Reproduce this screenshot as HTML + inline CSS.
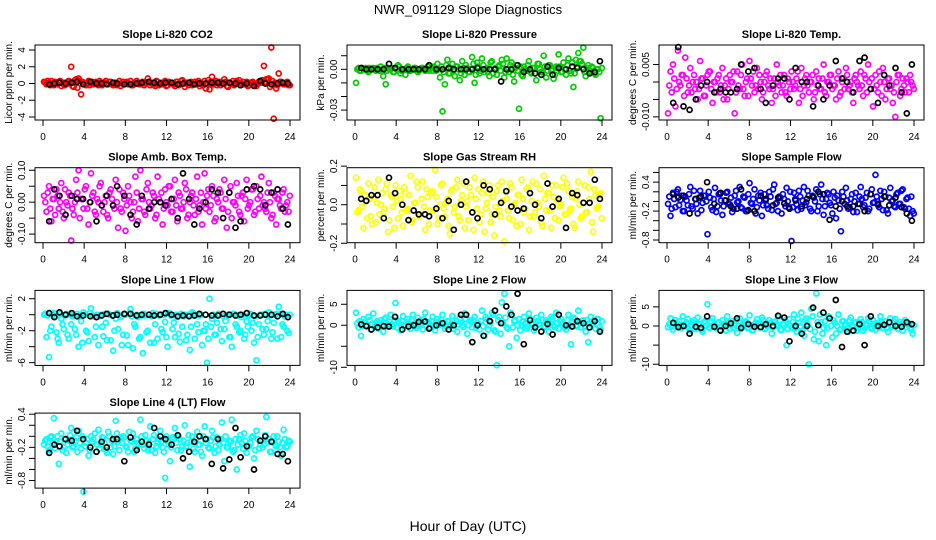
<!DOCTYPE html>
<html><head><meta charset="utf-8"><style>
html,body{margin:0;padding:0;background:#fff}
svg{display:block}
text{font-family:"Liberation Sans",sans-serif;fill:#000}
</style></head><body>
<svg id="chart" width="936" height="540" viewBox="0 0 936 540" xmlns="http://www.w3.org/2000/svg">
<text x="468" y="14" font-size="13" text-anchor="middle">NWR_091129  Slope Diagnostics</text>
<text x="468" y="531" font-size="14" text-anchor="middle">Hour of Day (UTC)</text>
<g id="panels"></g>
</svg>
<script>
const sampleHours=[0.1,0.34,0.58,0.82,1.06,1.3,1.54,1.78,2.02,2.26,2.5,2.74,2.98,3.22,3.46,3.7,3.94,4.18,4.42,4.66,4.9,5.14,5.38,5.62,5.86,6.1,6.34,6.58,6.82,7.06,7.3,7.54,7.78,8.02,8.26,8.5,8.74,8.98,9.22,9.46,9.7,9.94,10.18,10.42,10.66,10.9,11.14,11.38,11.62,11.86,12.1,12.34,12.58,12.82,13.06,13.3,13.54,13.78,14.02,14.26,14.5,14.74,14.98,15.22,15.46,15.7,15.94,16.18,16.42,16.66,16.9,17.14,17.38,17.62,17.86,18.1,18.34,18.58,18.82,19.06,19.3,19.54,19.78,20.02,20.26,20.5,20.74,20.98,21.22,21.46,21.7,21.94,22.18,22.42,22.66,22.9,23.14,23.38,23.62,23.86];
const sampleHours2=[0.22,0.46,0.7,0.94,1.18,1.42,1.66,1.9,2.14,2.38,2.62,2.86,3.1,3.34,3.58,3.82,4.06,4.3,4.54,4.78,5.02,5.26,5.5,5.74,5.98,6.22,6.46,6.7,6.94,7.18,7.42,7.66,7.9,8.14,8.38,8.62,8.86,9.1,9.34,9.58,9.82,10.06,10.3,10.54,10.78,11.02,11.26,11.5,11.74,11.98,12.22,12.46,12.7,12.94,13.18,13.42,13.66,13.9,14.14,14.38,14.62,14.86,15.1,15.34,15.58,15.82,16.06,16.3,16.54,16.78,17.02,17.26,17.5,17.74,17.98,18.22,18.46,18.7,18.94,19.18,19.42,19.66,19.9,20.14,20.38,20.62,20.86,21.1,21.34,21.58,21.82,22.06,22.3,22.54,22.78,23.02,23.26,23.5,23.74,23.98];
const blackHours=[0.6,1.1,1.6,2.2,2.8,3.3,3.9,4.6,5.2,5.7,6.2,6.8,7.2,7.9,8.5,9.1,9.6,10.3,10.8,11.4,11.9,12.5,13.1,13.6,14.2,14.7,15.2,15.8,16.4,17.0,17.5,18.1,18.7,19.2,19.8,20.5,21.1,21.6,22.2,22.8,23.3,23.8];
const xTicks=[0,4,8,12,16,20,24];
const panelTitles=["Slope Li-820 CO2","Slope Li-820 Pressure","Slope Li-820 Temp.","Slope Amb. Box Temp.","Slope Gas Stream RH","Slope Sample Flow","Slope Line 1 Flow","Slope Line 2 Flow","Slope Line 3 Flow","Slope Line 4 (LT) Flow"];
const yTitles=["Licor ppm per min.","kPa per min.","degrees C per min.","degrees C per min.","percent per min.","ml/min per min.","ml/min per min.","ml/min per min.","ml/min per min.","ml/min per min."];
const colors=["#ff0000","#00cc00","#ff00ff","#ff00ff","#ffff00","#0000ff","#00ffff","#00ffff","#00ffff","#00ffff"];
const valueScale=[1,0.001,0.001,0.01,0.01,0.01,0.1,0.1,0.1,0.01];
const yMax=[4.6,0.0179,0.0106,0.108,0.192,0.70,3.04,8.3,9.3,0.42];
const yMin=[-4.36,-0.0373,-0.0109,-0.127,-0.197,-0.856,-6.34,-9.55,-10.3,-0.937];
const yTickVals=[[-4,-2,0,2,4],[0.01,0,-0.01,-0.02,-0.03],[0.005,0,-0.005,-0.01],[0.1,0.05,0,-0.05,-0.1],[0.2,0.1,0,-0.1,-0.2],[0.6,0.4,0.2,0,-0.2,-0.4,-0.6,-0.8],[2,0,-2,-4,-6],[5,0,-5,-10],[5,0,-5,-10],[0.4,0.2,0,-0.2,-0.4,-0.6,-0.8]];
const yTickLabels=[["-4","-2","0","2","4"],["","0.00","","","-0.03"],["0.005","","","-0.010"],["0.10","","0.00","","-0.10"],["0.2","","0.0","","-0.2"],["","0.4","","","-0.2","","","-0.8"],["2","","-2","","-6"],["5","0","","-10"],["5","0","","-10"],["0.4","","","-0.2","","","-0.8"]];
const co2Vals=[0.2,-0.1,0.1,0.3,-0.2,0.0,0.2,-0.3,0.1,-0.1,0.3,2.0,-0.4,0.5,0.6,-1.3,0.1,-0.2,0.3,0.0,-0.1,0.2,-0.2,0.1,0.0,0.3,-0.1,0.2,-0.2,0.1,0.0,-0.3,0.2,0.1,-0.1,0.3,-0.2,0.0,0.1,-0.1,0.2,0.0,0.6,-0.2,0.1,-0.3,0.2,0.0,-0.1,0.3,-0.2,0.1,0.0,-0.3,0.2,-0.1,0.4,-0.4,0.1,0.0,-0.2,0.2,0.1,-0.3,0.0,0.3,-0.1,-0.7,0.8,0.1,-0.2,0.2,0.0,0.5,-0.3,0.1,0.0,-0.2,0.3,0.4,0.0,-0.1,0.2,-0.2,0.1,0.0,-0.3,0.2,0.1,2.1,0.5,0.6,4.3,-4.2,-0.6,1.2,0.2,-0.1,0.1,-0.2];
const co2Vals2=[0.1,0.3,-0.2,0.0,0.2,-0.1,0.3,0.0,-0.2,0.2,0.1,-0.3,0.4,-0.5,0.3,0.2,-0.1,0.1,-0.2,0.2,0.0,-0.1,0.3,-0.2,0.1,0.0,0.2,-0.1,0.1,-0.2,0.3,0.0,-0.1,0.2,0.0,-0.2,0.1,0.3,-0.1,0.0,-0.2,0.1,0.2,0.0,-0.1,0.3,-0.2,0.1,0.0,-0.3,0.2,0.0,-0.1,0.2,-0.2,0.3,0.0,0.1,-0.2,0.2,0.0,-0.1,0.3,0.1,-0.2,-0.6,0.4,0.2,-0.1,0.3,0.0,-0.2,0.1,0.2,-0.4,0.0,0.3,-0.1,0.1,-0.2,0.2,0.0,-0.3,0.1,0.2,-0.1,0.0,0.3,0.4,0.2,0.5,-0.4,0.3,0.1,-0.2,0.2,0.0,-0.1,0.2,-0.2];
const pressVals=[-10,1,-1,0,1,-2,0,1,-1,0,2,-5,-11,1,0,-2,1,3,-3,0,-4,2,-1,0,1,-2,0,1,-1,2,0,-1,1,4,-6,-31,-11,7,-3,4,-5,2,-8,6,-4,1,-2,9,-10,5,-3,8,-2,1,-5,6,0,-4,3,7,-6,8,-2,5,-9,3,-29,-4,2,-1,6,-3,1,-8,4,-2,10,-6,3,-1,-7,2,11,-2,5,-4,8,-3,-13,7,12,6,16,-5,3,-2,1,-4,0,-36];
const pressVals2=[0,-1,1,0,-1,1,0,0,1,-1,0,1,-1,0,1,-2,0,2,-1,0,1,-1,0,1,0,-1,1,0,0,-1,1,2,-1,0,2,-2,3,-3,1,-1,2,0,-3,1,3,-2,0,4,-4,2,-1,3,0,-2,5,-3,1,2,-1,4,-2,0,3,-4,1,-1,2,-5,0,3,-2,1,-3,4,0,-2,2,-1,3,0,-4,1,2,-2,0,3,-1,5,-3,2,6,4,-2,1,-1,2,-3,0,-2,1];
const tempVals=[-9,3,5,-7,9,-1,2,7,-3,4,0,-2,-5,6,1,-4,2,3,-6,0,1,-3,4,-1,-5,2,0,-9,3,-2,5,-4,1,6,-1,-3,4,2,-5,0,3,-2,-6,1,5,-1,-3,2,-4,0,3,-2,1,-6,4,-1,2,-3,0,-5,3,1,-2,5,-4,0,2,-1,-5,3,-3,1,4,-2,0,-6,2,-1,3,-4,1,5,-2,-7,2,-3,0,4,-5,1,-2,-6,-10,2,-4,1,-3,0,2,-1];
const tempVals2=[-1,-3,1,-2,0,2,-4,1,-1,-3,2,0,-2,1,-4,-1,3,-2,0,-3,2,-1,-5,1,-2,0,3,-3,-1,2,-2,0,-4,1,3,-1,-2,0,-3,2,-1,1,-2,-4,0,2,-1,-3,1,-2,0,-1,3,-2,-4,1,-1,0,2,-3,-1,-2,1,-3,0,2,-2,-1,1,-4,0,-2,2,-1,-3,1,0,-2,-1,2,-3,0,1,-2,-1,3,-4,0,-2,1,-1,-3,0,2,-2,-1,1,-3,0,-2];
const ambVals=[2,-3,5,-6,1,4,-2,6,-5,0,3,-12,-4,7,10,1,-2,5,-7,9,3,-4,0,6,-3,2,-5,4,-1,7,-8,-2,3,-9,5,0,-3,8,-6,10,1,-4,6,-2,3,-5,8,0,-7,4,-1,5,-3,7,-6,2,-2,6,-5,0,3,-4,8,-1,-7,9,2,-3,5,-6,1,4,-2,7,-8,3,-5,0,6,-3,2,-6,7,-1,4,-4,5,-2,8,0,-3,6,-5,3,-7,1,-2,4,-1,-3];
const ambVals2=[0,3,-2,1,-4,2,0,-3,4,-1,2,-2,0,3,-5,1,4,-2,0,2,-3,1,5,-1,0,-4,3,1,-2,0,4,-3,1,-1,2,-5,0,3,-2,1,-3,4,0,-1,2,-4,1,3,-2,0,5,-3,1,-1,3,-2,0,4,-4,2,-1,1,-3,3,0,-2,4,-1,2,-5,0,3,-2,1,-3,5,0,-1,2,-4,3,1,-2,0,4,-3,1,2,-1,-2,3,0,-4,2,1,-1,3,-3,0,2];
const rhVals=[14,-3,7,-12,2,11,-6,4,-9,13,0,-4,8,-14,5,-1,10,-7,3,-11,6,-2,15,-8,1,9,-5,12,-13,4,-3,7,18,-10,0,11,-6,3,-15,8,-1,13,-8,5,-12,2,9,-4,14,-2,-9,6,-14,1,10,-5,-16,7,-3,12,-19,3,-7,9,0,-11,5,13,-4,8,-13,2,-6,11,-1,-9,15,-3,6,-12,4,10,-8,0,14,-5,7,-2,-10,3,12,-7,1,-4,9,17,-14,5,-1,6];
const rhVals2=[-4,8,-1,5,-7,3,-10,9,1,-5,6,-2,11,-8,4,-12,2,7,-4,9,-3,5,-9,1,12,-6,3,-1,8,-10,6,-3,4,-7,10,-2,1,-11,7,-4,9,-6,2,11,-1,-8,5,-13,3,8,-5,12,-2,6,-9,4,-1,10,-6,2,7,-3,11,-8,1,5,-10,3,-2,9,-6,12,-4,1,8,-11,3,6,-3,10,-7,2,-1,9,-5,11,-3,4,-12,7,0,-6,10,-4,3,-9,8,-2,5,-7];
const sampleVals=[-5,-30,18,-12,25,3,-20,10,-8,30,-15,5,-25,22,-3,12,-68,8,-18,28,-10,15,-28,2,20,-6,-22,12,-2,30,-14,8,-20,38,-5,25,-12,2,-30,15,-8,20,-18,35,-3,10,-25,5,28,-12,-82,18,-6,22,-15,30,-2,12,-20,8,25,-10,35,-28,5,15,-8,20,-35,2,-62,10,28,-15,5,-22,18,-5,30,-12,8,-20,15,-3,55,-8,22,-18,10,-25,28,2,-12,18,-5,25,-15,8,-30,-20];
const sampleVals2=[10,-15,5,20,-8,12,-20,2,15,-10,22,-5,8,-18,12,0,20,-12,5,-22,15,2,-10,18,-5,8,-15,22,0,-12,10,-20,15,-3,5,-25,12,18,-8,2,-15,10,25,-5,-20,8,15,-10,0,20,-12,5,-18,10,2,-8,22,-15,12,0,-20,15,5,-10,18,-3,-25,8,12,-15,20,-5,2,-12,15,0,-22,10,5,-8,18,-15,25,-2,10,-12,5,20,-18,8,0,-10,15,-5,22,-12,5,-15,10,-25];
const line1Vals=[0,-28,-53,-15,2,-22,-35,-5,-18,1,-30,-12,0,-25,-40,-8,3,-20,-33,8,-2,-15,-38,0,-27,-10,1,-32,-45,-5,-18,-3,-25,0,-38,7,-42,-15,-3,-28,-48,-1,-20,-35,2,-12,-30,0,-22,-9,-40,1,-18,-28,-3,-34,-15,0,-25,-44,3,-30,-12,-1,-38,-20,-60,20,-5,-25,-10,0,-33,-18,-2,-28,-40,1,-15,-22,-3,-30,-8,-1,-20,-35,-57,-12,0,-25,-18,3,-30,-10,1,10,-28,-15,0,-23];
const line1Vals2=[1,-1,-20,0,-2,-30,1,-12,-1,-25,0,-2,-18,1,-1,-35,0,-22,2,-1,-28,0,-2,-15,1,-32,0,-1,-20,2,-1,-38,0,-26,1,-2,-12,0,-30,-1,1,-22,0,-2,-35,1,-1,-18,0,-28,2,-1,-10,0,-24,1,-2,-32,0,-15,1,-1,-22,0,-20,-12,-30,-15,0,-25,1,-18,-2,-8,0,-28,1,-12,-1,-20,0,-25,-15,1,-10,-2,-28,0,-18,1,-8,-1,-22,0,-30,1,-12,-2,-20,0];
const line2Vals=[30,-5,-25,15,0,20,-10,28,5,-8,12,-15,18,2,25,-3,53,10,-12,22,0,15,-8,25,-2,18,5,-10,30,8,-5,20,-12,15,3,25,-8,10,-3,22,5,-15,18,0,28,-20,12,-5,20,3,-10,35,-25,15,0,30,-12,-95,20,55,75,-5,-50,25,10,-30,15,0,20,-8,28,5,-12,18,2,25,-5,12,-15,20,0,30,-8,15,3,-10,25,-45,18,0,35,-5,12,-15,-40,20,3,-8,15,-10];
const line2Vals2=[5,10,-2,8,0,12,3,-4,10,5,0,15,-3,8,2,12,-5,6,10,0,8,-2,12,4,-6,9,2,15,-1,6,10,-3,8,0,13,5,-2,9,4,-8,11,2,6,-4,15,0,8,12,-6,4,10,-2,20,-10,8,25,-15,12,-20,5,18,-8,30,-5,12,0,-12,10,5,-3,15,2,-6,10,4,12,-2,8,0,15,-4,6,10,2,-5,12,0,8,15,-3,6,10,-2,12,4,0,9,15,-4,10];
const line3Vals=[-3,20,-10,15,5,-5,25,0,18,-12,10,-8,22,3,-15,12,57,-5,20,-3,8,-10,15,0,25,-8,12,3,-18,20,-2,10,-5,28,-12,5,18,-3,22,-8,0,15,-20,10,3,25,-10,5,-50,18,-5,30,-15,8,35,-25,20,-100,45,-35,85,-40,10,-5,-50,25,0,15,-20,30,-8,12,3,-15,22,0,10,-5,18,-12,5,20,-3,15,-10,8,25,-5,12,-15,20,0,18,-8,10,-12,15,3,-5,-20];
const line3Vals2=[5,-2,8,0,12,-5,3,10,-8,2,15,-3,6,-10,9,0,-4,12,2,-6,10,-2,5,-12,8,3,-5,14,0,-8,6,12,-3,2,-10,9,5,-2,15,-6,3,8,-4,12,0,-10,6,15,-8,2,10,-5,20,0,-12,15,5,-8,25,-15,10,30,-20,12,-5,20,-30,8,0,-10,12,5,-6,15,-2,8,-12,4,10,-5,2,12,-8,6,0,-4,10,2,-6,8,-2,12,0,-8,5,10,-3,6,-10,2];
const line4Vals=[-15,-5,-25,0,33,-10,-50,5,-20,-30,-8,15,-18,-2,10,-22,-100,-12,-35,0,-5,-28,12,-15,-3,-25,8,-20,-32,28,-10,-2,0,-18,-28,-8,5,-22,-12,30,-15,2,-25,18,-5,-30,-12,10,-20,-75,-8,-45,-2,15,-25,-5,-18,20,-12,-55,0,-28,8,-15,-35,18,-5,-22,10,-30,-2,-15,25,-45,-20,-8,30,-25,-60,-5,-12,5,-30,-18,-2,-40,10,-22,-8,-15,35,-5,-28,0,-18,-10,-35,12,-20,-8];
const line4Vals2=[-8,-18,-2,-12,-22,0,-10,-25,-5,-15,2,-20,-8,-28,-12,0,-18,-5,-25,-10,5,-15,-22,-2,-12,-30,0,-8,-18,5,-25,-12,-2,-20,8,-10,-28,-5,-15,0,-22,-8,-12,-25,2,-18,-5,-10,-28,0,-15,-20,-5,-12,0,-25,-8,-18,2,-10,-22,-5,-15,-28,0,-12,-20,-8,-2,-18,-25,-5,-12,0,-20,-10,-28,-5,-15,2,-22,-8,-18,-12,0,-25,-5,-15,-20,2,-10,-28,-8,-15,0,-20,-12,-5,-18,-10];
const co2Black=[-0.1,0,0.1,0,0.1,0.2,-0.1,0.2,0,0,-0.1,0.1,0,-0.1,-0.1,0,0.1,0.2,0.1,0,0.1,0.1,-0.1,0,0.1,-0.1,0,0,0.1,0.1,0,0.1,0,-0.2,0,-0.3,0.3,0,-0.1,0,0.1,0];
const pressBlack=[1,0,0,0,0,4,1,0,0,0,0,0,3,0,0,1,0,0,0,0,1,0,0,0,-9,0,0,3,-2,0,-3,-4,2,-4,1,0,2,1,0,-3,-2,6];
const tempBlack=[-6,10,-7,-8,-5,-1,0,-3,-2,-3,-3,-2,5,3,4,-2,-6,-1,1,1,-5,4,0,0,-7,-1,-5,-1,6,1,0,-3,6,7,-2,-6,2,-1,4,-3,-9,5];
const ambBlack=[-6,4,2,-4,2,1,1,0,-6,-1,2,-1,5,2,-4,-7,2,-2,0,0,-1,1,-5,9,1,-7,-2,0,4,3,-5,3,-8,-6,4,5,4,-1,3,4,-2,-7];
const rhBlack=[3,2,5,5,-7,14,6,0,-8,-3,-5,-5,-6,-2,-7,2,-13,0,12,-4,-7,10,8,-5,1,7,-1,-3,-2,6,0,-7,11,-1,3,-12,6,5,1,1,13,3];
const sampleBlack=[15,8,12,-25,5,10,40,-5,18,2,-10,-15,25,-18,-20,12,5,-8,8,-4,-15,2,-10,5,10,20,15,-38,-10,0,-10,-10,-5,-20,15,-5,10,-8,8,-12,-25,-40];
const line1Black=[2,-3,3,0,2,-2,-1,-2,-3,-1,1,-1,0,1,1,-1,0,0,-1,0,2,0,-2,-1,-2,-1,1,0,-1,-1,1,0,-1,0,2,-1,-1,0,0,-2,1,-3];
const line2Black=[2,-2,-10,-5,-2,-3,20,-10,-3,0,8,9,-8,0,5,-10,0,25,25,-40,0,-25,10,35,5,45,25,75,-45,12,-5,-15,3,-22,25,0,-3,10,5,-5,10,-15];
const line3Black=[8,-3,0,-20,-2,-5,25,-2,-12,0,7,20,-5,5,-2,-3,5,0,27,22,-40,0,-20,0,48,2,35,20,68,-55,-15,-12,5,-50,25,0,3,10,0,-2,10,5];
const line4Black=[-30,-15,-18,-5,-8,10,-5,-20,-28,-10,-20,-5,-5,-45,-2,-25,-10,-15,15,0,-5,-15,2,-40,-28,-10,0,-5,-50,-5,-58,-42,15,-38,-18,-60,-8,0,-10,-32,-32,-45];
const colorSeries=[co2Vals,pressVals,tempVals,ambVals,rhVals,sampleVals,line1Vals,line2Vals,line3Vals,line4Vals];
const colorSeries2=[co2Vals2,pressVals2,tempVals2,ambVals2,rhVals2,sampleVals2,line1Vals2,line2Vals2,line3Vals2,line4Vals2];
const blackSeries=[co2Black,pressBlack,tempBlack,ambBlack,rhBlack,sampleBlack,line1Black,line2Black,line3Black,line4Black];

const NS="http://www.w3.org/2000/svg";
const root=document.getElementById('panels');
function mk(tag,attrs,parent){const e=document.createElementNS(NS,tag);for(const k in attrs)e.setAttribute(k,attrs[k]);parent.appendChild(e);return e;}
for(let p=0;p<10;p++){
  const col=p%3,row=Math.floor(p/3);
  const ox=312*col, oy=122.7*row;
  const L=35+ox,R=300+ox,T=45+oy,B=120+oy;
  const xs=h=>43+ox+(290-43)*h/24;
  const ys=v=>T+(yMax[p]-v)/(yMax[p]-yMin[p])*(B-T);
  const g=mk('g',{},root);
  
  
  const t=mk('text',{x:(L+R)/2,y:T-7,'font-size':11,'font-weight':'bold','text-anchor':'middle'},g);
  t.textContent=panelTitles[p];
  
  
  const yt=mk('text',{x:0,y:0,'font-size':10,'text-anchor':'middle',transform:`translate(${L-23},${(T+B)/2}) rotate(-90)`},g);
  yt.textContent=yTitles[p];
  
  
  const pts=mk('g',{fill:'none','stroke-width':1.7},g);
  
  
  colorSeries[p].forEach((v,i)=>{
    const c=mk('circle',{cx:xs(sampleHours[i]).toFixed(1),cy:ys(v*valueScale[p]).toFixed(1),r:2.5,stroke:colors[p]},pts);
    
    
  });
  colorSeries2[p].forEach((v,i)=>{
    const c=mk('circle',{cx:xs(sampleHours2[i]).toFixed(1),cy:ys(v*valueScale[p]).toFixed(1),r:2.5,stroke:colors[p]},pts);
    
    
  });
  blackSeries[p].forEach((v,i)=>{
    const c=mk('circle',{cx:xs(blackHours[i]).toFixed(1),cy:ys(v*valueScale[p]).toFixed(1),r:2.5,stroke:'#000'},pts);
    
    
  });
  const box=mk('rect',{x:L,y:T,width:R-L,height:B-T,fill:'none',stroke:'#000','stroke-width':1},g);
  
  
  xTicks.forEach(h=>{
    mk('line',{x1:xs(h),x2:xs(h),y1:B,y2:B+6,stroke:'#000'},g);
    const tx=mk('text',{x:xs(h),y:B+20,'font-size':10,'text-anchor':'middle'},g);
    tx.textContent=h;
    
    
  });
  yTickVals[p].forEach((v,i)=>{
    const y=ys(v);
    mk('line',{x1:L-6,x2:L,y1:y,y2:y,stroke:'#000'},g);
    if(yTickLabels[p][i]){
      const tl=mk('text',{x:0,y:0,'font-size':10,'text-anchor':'middle',transform:`translate(${L-10},${y}) rotate(-90)`},g);
      tl.textContent=yTickLabels[p][i];
      
      
    }
  });
}
</script>
</body></html>
